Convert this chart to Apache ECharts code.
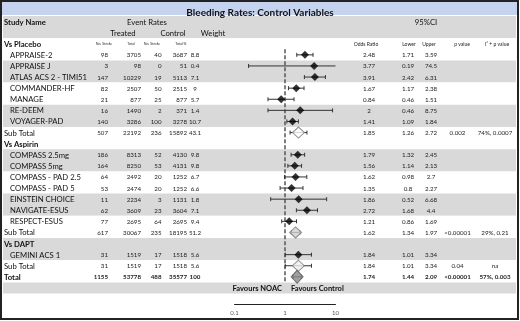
<!DOCTYPE html>
<html><head><meta charset="utf-8">
<script src="https://cdn.jsdelivr.net/npm/echarts@6/dist/echarts.min.js"></script>
<style>html,body{margin:0;padding:0;background:#fff}#c{width:520px;height:321px}</style>
</head><body><div id="c"></div>
<script>
// ---------------- data ----------------
const groupNames = ['Vs Placebo', 'Vs Aspirin', 'Vs DAPT'];
const studyGroup = [0,0,0,0,0,0,0,1,1,1,1,1,1,1,2];
const studyNames = ['APPRAISE-2','APPRAISE J','ATLAS ACS 2 - TIMI51','COMMANDER-HF','MANAGE','RE-DEEM','VOYAGER-PAD',
  'COMPASS 2.5mg','COMPASS 5mg','COMPASS - PAD 2.5','COMPASS - PAD 5','EINSTEIN CHOICE','NAVIGATE-ESUS','RESPECT-ESUS','GEMINI ACS 1'];
const treatedStroke = [98,3,147,82,21,16,140,186,164,64,53,11,62,77,31];
const treatedTotal  = [3705,98,10229,2507,877,1490,3286,8313,8250,2492,2474,2234,3609,2695,1519];
const controlStroke = [40,0,19,50,25,2,100,52,53,20,20,3,23,64,17];
const controlTotal  = [3687,51,5113,2515,877,371,3278,4130,4131,1252,1252,1131,3604,2695,1518];
const weightPct     = [8.8,0.4,7.1,9,5.7,1.4,10.7,9.8,9.8,6.7,6.6,1.8,7.1,9.4,5.6];
const oddsRatio     = [2.48,3.77,3.91,1.67,0.84,2,1.41,1.79,1.56,1.62,1.35,1.86,2.72,1.21,1.84];
const lowerCI       = [1.71,0.19,2.42,1.17,0.46,0.46,1.09,1.32,1.14,0.98,0.8,0.52,1.68,0.86,1.01];
const upperCI       = [3.59,74.5,6.31,2.38,1.51,8.75,1.84,2.45,2.13,2.7,2.27,6.68,4.4,1.69,3.34];

const subTreatedStroke = [507,617,31];
const subTreatedTotal  = [22192,30067,1519];
const subControlStroke = [236,235,17];
const subControlTotal  = [15892,18195,1518];
const subWeight        = [43.1,51.2,5.6];
const subOR            = [1.85,1.62,1.84];
const subLower         = [1.26,1.34,1.01];
const subUpper         = [2.72,1.97,3.34];
const subPValue        = ['0.002','<0.00001','0.04'];
const subI2            = ['74%, 0.0007','29%, 0.21','na'];

const totalCounts = [1155,53778,488,35577,100];
const totalOR = 1.74, totalLower = 1.44, totalUpper = 2.09;
const totalPValue = '<0.00001', totalI2 = '57%, 0.003';

const axisTickValues = [0.1, 1, 10];

// ---------------- layout / style ----------------
const FAM = 'Lato, "Liberation Sans", sans-serif';
const F = (w, s) => `${w} ${s}px ${FAM}`;
const L = { nameHead:4, nameIndent:10, tStroke:108, tTotal:141, cStroke:161.5, cTotal:187, weight:195,
  or:369, lower:408, upper:431, p:457.5, i2:495, eventRates:147, treated:123, control:173, weightHead:213, ci:426,
  hTStroke:104, hTTotal:131, hCStroke:152, hCTotal:179, hPct:185, orHead:366, lowerHead:409, upperHead:429,
  pHead:462, i2Head:497, favL:282, favR:291 };
const subFill = ['#ffffff','#cfcfcf','#eeeeee'];
const INK = '#111';

const cells = [], studyPts = [], subPts = [], ciData = [];
function add(x, row, text, font, align, color) {
  cells.push({ value: [x, row], text: String(text), font, align: align || 'center', color: color || INK });
}
const NAME = F('normal', 7.7), BOLD = F('bold', 7.7), NUM = F('normal', 6.2), NUMB = F('bold', 6.2),
      TINY = F('normal', 3.6), SMALL = F('normal', 5);

add(L.nameHead, 0, 'Study Name', BOLD, 'left');
add(L.eventRates, 0, 'Event Rates', NAME);
add(L.ci, 0, '95%CI', NAME);
add(L.treated, 1, 'Treated', NAME);
add(L.control, 1, 'Control', NAME);
add(L.weightHead, 1, 'Weight', NAME);

function numbers(row, a, b, c, d, w, or, lo, up, p, i2, font) {
  add(L.tStroke, row, a, font, 'right', '#222');
  add(L.tTotal, row, b, font, 'right', '#222');
  add(L.cStroke, row, c, font, 'right', '#222');
  add(L.cTotal, row, d, font, 'right', '#222');
  add(L.weight, row, w, font, 'center', '#222');
  add(L.or, row, or, font, 'center', '#222');
  add(L.lower, row, lo, font, 'center', '#222');
  add(L.upper, row, up, font, 'center', '#222');
  if (p != null) add(L.p, row, p, font, 'center', '#222');
  if (i2 != null) add(L.i2, row, i2, font, 'center', '#222');
}

let row = 2;
groupNames.forEach((g, gi) => {
  add(L.nameHead, row, g, BOLD, 'left');
  if (gi === 0) {
    add(L.hTStroke, row, 'No. Stroke', TINY, 'center', '#333');
    add(L.hTTotal, row, 'Total', TINY, 'center', '#333');
    add(L.hCStroke, row, 'No. Stroke', TINY, 'center', '#333');
    add(L.hCTotal, row, 'Total', TINY, 'center', '#333');
    add(L.hPct, row, '%', TINY, 'center', '#333');
    add(L.orHead, row, 'Odds Ratio', SMALL, 'center', '#222');
    add(L.lowerHead, row, 'Lower', SMALL, 'center', '#222');
    add(L.upperHead, row, 'Upper', SMALL, 'center', '#222');
    add(L.pHead, row, 'p value', SMALL, 'center', '#222');
    add(L.i2Head, row, 'I\u00B2 + p value', SMALL, 'center', '#222');
  }
  row++;
  studyNames.forEach((n, i) => {
    if (studyGroup[i] !== gi) return;
    add(L.nameIndent, row, n, NAME, 'left');
    numbers(row, treatedStroke[i], treatedTotal[i], controlStroke[i], controlTotal[i], weightPct[i],
      oddsRatio[i], lowerCI[i], upperCI[i], null, null, NUM);
    studyPts.push([oddsRatio[i], row]);
    ciData.push([lowerCI[i], row, upperCI[i]]);
    row++;
  });
  add(L.nameHead, row, 'Sub Total', NAME, 'left');
  numbers(row, subTreatedStroke[gi], subTreatedTotal[gi], subControlStroke[gi], subControlTotal[gi], subWeight[gi],
    subOR[gi], subLower[gi], subUpper[gi], subPValue[gi], subI2[gi], NUM);
  subPts.push({ value: [subOR[gi], row], itemStyle: { color: subFill[gi], borderColor: '#777', borderWidth: 1 } });
  ciData.push([subLower[gi], row, subUpper[gi]]);
  row++;
});
const totalRow = row;
add(L.nameHead, row, 'Total', BOLD, 'left');
numbers(row, totalCounts[0], totalCounts[1], totalCounts[2], totalCounts[3], totalCounts[4],
  totalOR, totalLower, totalUpper, totalPValue, totalI2, NUMB);
ciData.push([totalLower, row, totalUpper]);
const totalPts = [{ value: [totalOR, row], itemStyle: { color: '#8a8a8a', borderColor: '#555', borderWidth: 1 } }];
row++;
add(L.favL, row, 'Favours NOAC', F('bold', 7.5), 'right', INK);
add(L.favR, row, 'Favours Control', F('bold', 7.5), 'left', INK);
row++;
const nRows = row;
const rowCats = Array.from({ length: nRows }, (_, i) => String(i));

const TOP = 16, RH = 11.1, H = RH * nRows;

const chart = echarts.init(document.getElementById('c'), null, { renderer: 'canvas' });
chart.setOption({
  animation: false,
  backgroundColor: '#fff',
  title: { text: 'Bleeding Rates: Control Variables', left: 'center', top: 2.5,
    textStyle: { fontFamily: FAM, fontSize: 10, fontWeight: 'bold', color: '#111' } },
  graphic: [
    { type: 'rect', z: -1, shape: { x: 2, y: 2, width: 515, height: 13 }, style: { fill: '#c6d3ef' } },
    { type: 'rect', z: 100, shape: { x: 1, y: 1, width: 517, height: 318 }, style: { fill: null, stroke: '#222', lineWidth: 2 } }
  ],
  grid: [
    { left: 3, top: TOP, width: 513, height: H },
    { left: 234.5, top: TOP, width: 101, height: H }
  ],
  xAxis: [
    { gridIndex: 0, type: 'value', min: 3, max: 516, show: false },
    { gridIndex: 1, type: 'log', logBase: 10, min: axisTickValues[0], max: axisTickValues[axisTickValues.length - 1],
      position: 'bottom', offset: 10.5,
      axisLine: { show: true, onZero: false, lineStyle: { color: '#222', width: 1 } },
      axisTick: { show: false }, splitLine: { show: false },
      axisLabel: { fontSize: 6, color: '#555', margin: 6, fontFamily: FAM, formatter: v => String(v) } }
  ],
  yAxis: [
    { gridIndex: 0, type: 'category', data: rowCats, inverse: true,
      axisLine: { show: false }, axisTick: { show: false }, axisLabel: { show: false }, splitLine: { show: false },
      splitArea: { show: true, areaStyle: { color: ['#d9d9d9', '#ffffff'] } } },
    { gridIndex: 1, type: 'category', data: rowCats, inverse: true, show: false }
  ],
  series: [
    { type: 'custom', xAxisIndex: 0, yAxisIndex: 0, z: 5, data: cells.map(c => c.value),
      renderItem: (params, api) => {
        const c = cells[params.dataIndex];
        const p = api.coord([api.value(0), api.value(1)]);
        return { type: 'text', x: p[0], y: p[1] + 0.5,
          style: { text: c.text, font: c.font, fill: c.color, align: c.align, verticalAlign: 'middle' } };
      } },
    { type: 'custom', xAxisIndex: 1, yAxisIndex: 1, z: 6, data: [[1, 0]],
      renderItem: (params, api) => {
        const a = api.coord([1, 2]), b = api.coord([1, 3]);
        const c = api.coord([1, totalRow]), d = api.coord([1, totalRow + 1]);
        return { type: 'line', shape: { x1: a[0], y1: (a[1] + b[1]) / 2, x2: a[0], y2: (c[1] + d[1]) / 2 },
          style: { stroke: '#555', lineWidth: 1.5, lineDash: [4, 2] } };
      } },
    { type: 'custom', xAxisIndex: 1, yAxisIndex: 1, z: 7, data: ciData,
      renderItem: (params, api) => {
        const lo = api.value(0), r = api.value(1), hi = api.value(2);
        const xmin = axisTickValues[0], xmax = axisTickValues[axisTickValues.length - 1];
        const a = api.coord([Math.max(lo, xmin), r]);
        const b = api.coord([Math.min(hi, xmax), r]);
        const st = { stroke: '#333', lineWidth: 1 };
        const ch = [{ type: 'line', shape: { x1: a[0], y1: a[1], x2: b[0], y2: b[1] }, style: st }];
        if (lo >= xmin) ch.push({ type: 'line', shape: { x1: a[0], y1: a[1] - 2, x2: a[0], y2: a[1] + 2 }, style: st });
        if (hi <= xmax) ch.push({ type: 'line', shape: { x1: b[0], y1: b[1] - 2, x2: b[0], y2: b[1] + 2 }, style: st });
        return { type: 'group', children: ch };
      } },
    { type: 'scatter', xAxisIndex: 1, yAxisIndex: 1, z: 8, symbol: 'diamond', symbolSize: [8, 8],
      itemStyle: { color: '#000' }, data: studyPts },
    { type: 'scatter', xAxisIndex: 1, yAxisIndex: 1, z: 8, symbol: 'diamond', symbolSize: [12, 11], data: subPts },
    { type: 'scatter', xAxisIndex: 1, yAxisIndex: 1, z: 8, symbol: 'diamond', symbolSize: [12, 13], data: totalPts }
  ]
});
</script></body></html>
